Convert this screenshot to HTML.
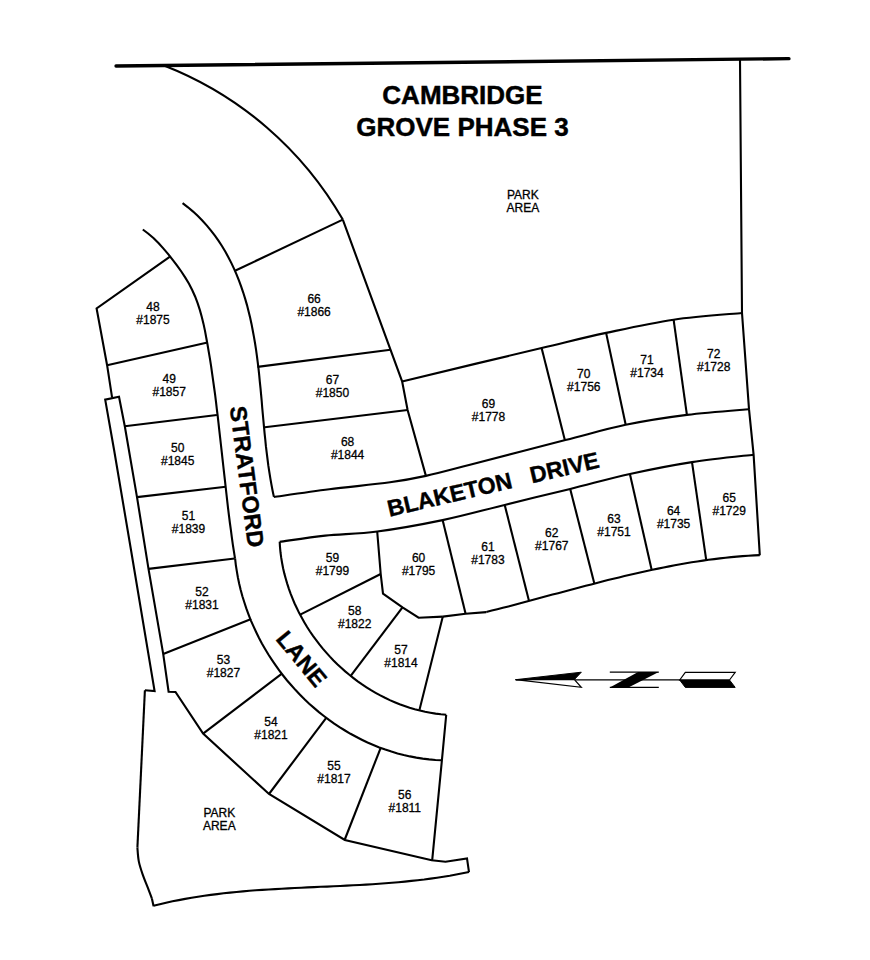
<!DOCTYPE html><html><head><meta charset="utf-8"><style>html,body{margin:0;padding:0;background:#fff;}svg{display:block;}text{font-family:"Liberation Sans",sans-serif;fill:#000;}</style></head><body>
<svg width="870" height="960" viewBox="0 0 870 960">
<rect width="870" height="960" fill="#fff"/>
<g fill="none" stroke="#000" stroke-width="2.1" stroke-linejoin="miter" stroke-linecap="butt">
<path d="M116.0,66.0 L789.0,58.7" stroke-width="3.3" stroke-linecap="round"/>
<path d="M164.6,65.7 A354.9,354.9 0 0 1 342.8,219.6"/>
<path d="M182.6,203.1 L188.0,207.3 L193.1,211.6 L197.9,216.1 L202.5,220.8 L206.9,225.6 L211.0,230.6 L214.9,235.7 L218.6,240.9 L222.1,246.3 L225.4,251.8 L228.5,257.4 L231.4,263.1 L234.1,268.9 L236.6,274.7 L239.0,280.7 L241.2,286.7 L243.3,292.8 L245.2,298.9 L247.0,305.1 L248.6,311.4 L250.1,317.6 L251.5,323.9 L252.7,330.3 L253.9,336.6 L255.0,343.0 L256.0,349.4 L256.9,355.8 L257.7,362.2 L258.5,368.7 L259.2,375.1 L259.8,381.6 L260.5,388.1 L261.1,394.6 L261.7,401.0 L262.2,407.5 L262.8,414.0 L263.4,420.5 L264.0,426.9 L264.6,433.4 L265.3,439.8 L265.9,446.2 L266.7,452.7 L267.5,459.0 L268.3,465.4 L269.3,471.8 L270.3,478.1 L271.4,484.4 L272.6,490.7 L273.9,496.9"/>
<path d="M279.7,541.8 L280.0,547.2 L280.5,552.5 L281.2,557.7 L282.1,563.0 L283.1,568.2 L284.3,573.4 L285.7,578.5 L287.2,583.6 L288.8,588.6 L290.6,593.6 L292.6,598.6 L294.6,603.5 L296.9,608.3 L299.2,613.1 L301.8,617.8 L304.4,622.4 L307.1,627.0 L310.0,631.5 L313.0,635.9 L316.2,640.2 L319.4,644.4 L322.8,648.6 L326.3,652.6 L329.9,656.6 L333.5,660.4 L337.3,664.2 L341.2,667.8 L345.2,671.4 L349.3,674.8 L353.5,678.1 L357.7,681.3 L362.1,684.4 L366.5,687.3 L371.0,690.2 L375.6,692.8 L380.3,695.4 L385.0,697.8 L389.8,700.1 L394.7,702.2 L399.6,704.2 L404.6,706.0 L409.6,707.7 L414.7,709.2 L419.9,710.5 L425.1,711.7 L430.3,712.7 L435.6,713.6 L440.9,714.3 L446.3,714.7"/>
<path d="M142.8,229.5 L148.4,233.7 L153.7,238.3 L158.7,243.3 L163.5,248.6 L168.2,254.1 L172.7,259.8 L177.1,265.6 L181.3,271.5 L185.3,277.6 L189.0,283.8 L192.3,290.2 L195.2,296.7 L197.7,303.4 L199.9,310.1 L201.8,317.0 L203.5,323.9 L205.0,330.9 L206.3,338.0 L207.6,345.0 L208.8,352.1 L210.0,359.1 L211.1,366.2 L212.1,373.3 L213.1,380.4 L214.1,387.5 L215.1,394.6 L216.0,401.8 L216.8,408.9 L217.7,416.0 L218.5,423.1 L219.3,430.3 L220.1,437.4 L220.9,444.5 L221.7,451.7 L222.5,458.8 L223.3,466.0 L224.1,473.1 L224.9,480.2 L225.7,487.4 L226.5,494.5 L227.3,501.6 L228.1,508.7 L229.0,515.9 L229.9,523.0 L230.9,530.1 L231.8,537.2 L232.8,544.3 L233.9,551.4 L235.0,558.4"/>
<path d="M235.1,558.4 L235.8,564.8 L236.8,571.2 L237.9,577.5 L239.2,583.8 L240.7,590.0 L242.4,596.2 L244.3,602.3 L246.3,608.4 L248.5,614.4 L250.8,620.3 L253.4,626.2 L256.1,632.0 L258.9,637.8 L261.9,643.4 L265.1,649.0 L268.4,654.5 L271.9,659.9 L275.5,665.2 L279.2,670.4 L283.1,675.5 L287.1,680.5 L291.3,685.3 L295.6,690.1 L300.0,694.7 L304.5,699.3 L309.2,703.7 L314.0,707.9 L318.9,712.1 L323.9,716.0 L329.0,719.9 L334.2,723.6 L339.5,727.1 L345.0,730.5 L350.5,733.8 L356.1,736.8 L361.8,739.7 L367.5,742.5 L373.4,745.0 L379.3,747.4 L385.3,749.6 L391.4,751.6 L397.5,753.4 L403.7,755.0 L410.0,756.4 L416.3,757.6 L422.7,758.6 L429.1,759.4 L435.5,760.0 L442.0,760.3"/>
<path d="M402.1,381.4 C425.4,375.8 507.6,356.1 541.6,348.0 C575.6,339.9 584.1,337.6 606.1,332.9 C628.1,328.2 651.0,323.0 673.6,319.7 C696.2,316.4 730.6,314.1 742.0,313.0"/>
<path d="M273.8,497.0 C283.1,495.7 309.9,491.8 329.3,489.3 C348.7,486.9 373.9,484.5 390.0,482.3 C406.1,480.1 412.6,478.8 425.9,475.9 C439.2,473.0 446.8,470.8 470.0,464.8 C493.2,458.8 539.4,446.8 565.4,440.1 C591.4,433.4 605.5,429.0 625.7,424.8 C646.0,420.6 666.4,417.5 686.9,414.9 C707.4,412.3 738.6,410.1 749.0,409.2"/>
<path d="M279.7,541.8 C287.3,540.8 308.9,537.3 325.2,535.6 C341.4,533.9 357.6,534.1 377.2,531.5 C396.8,528.9 421.4,524.5 442.6,520.1 C463.9,515.7 483.4,510.1 504.7,504.9 C526.0,499.7 549.3,494.0 570.2,488.9 C591.1,483.8 609.6,478.5 629.9,474.0 C650.2,469.5 671.4,465.3 692.0,462.1 C712.6,458.9 743.3,455.9 753.6,454.7"/>
<path d="M486.3,611.9 L491.8,610.6 L497.3,609.2 L502.9,607.8 L508.4,606.4 L513.9,604.9 L519.4,603.5 L524.9,602.0 L530.5,600.6 L536.0,599.1 L541.5,597.6 L547.0,596.1 L552.5,594.6 L558.1,593.2 L563.6,591.7 L569.1,590.2 L574.7,588.7 L580.2,587.3 L585.7,585.8 L591.3,584.4 L596.8,583.0 L602.3,581.5 L607.9,580.1 L613.4,578.8 L619.0,577.4 L624.5,576.1 L630.1,574.7 L635.7,573.5 L641.2,572.2 L646.8,571.0 L652.4,569.8 L658.0,568.6 L663.6,567.5 L669.2,566.4 L674.8,565.3 L680.4,564.3 L686.0,563.3 L691.7,562.3 L697.3,561.5 L702.9,560.6 L708.6,559.8 L714.2,559.1 L719.9,558.4 L725.6,557.7 L731.2,557.1 L736.9,556.6 L742.6,556.1 L748.3,555.7 L754.1,555.4 L759.8,555.1"/>
<path d="M137.4,847.6 C137.6,849.9 137.9,856.8 138.8,861.4 C139.7,866.0 141.4,870.8 142.9,875.2 C144.4,879.6 146.3,883.7 147.8,887.6 C149.3,891.5 151.2,896.8 151.9,898.6"/>
<path d="M153.5,905.7 L159.8,904.2 L166.1,902.7 L172.5,901.3 L178.8,900.1 L185.2,898.9 L191.6,897.8 L198.0,896.7 L204.3,895.8 L210.8,894.9 L217.2,894.1 L223.6,893.3 L230.0,892.6 L236.5,892.0 L242.9,891.4 L249.4,890.8 L255.8,890.3 L262.3,889.9 L268.8,889.5 L275.2,889.1 L281.7,888.7 L288.2,888.4 L294.7,888.0 L301.2,887.7 L307.6,887.4 L314.1,887.1 L320.6,886.8 L327.1,886.6 L333.6,886.3 L340.1,886.0 L346.6,885.6 L353.1,885.3 L359.6,885.0 L366.0,884.6 L372.5,884.2 L379.0,883.8 L385.5,883.3 L391.9,882.8 L398.4,882.2 L404.9,881.6 L411.3,880.9 L417.7,880.2 L424.2,879.5 L430.6,878.6 L437.0,877.7 L443.4,876.7 L449.8,875.7 L456.2,874.5 L462.6,873.3 L469.0,872.0"/>
<path d="M740.0,60.0 L742.0,313.0 L749.0,409.2 L753.6,454.7 L759.8,555.2"/>
<path d="M342.8,219.6 L235.0,270.8"/>
<path d="M342.8,219.6 L402.1,381.4 L407.6,410.0 L425.9,475.9"/>
<path d="M257.5,366.9 L390.5,349.7"/>
<path d="M264.8,427.3 L407.6,410.0"/>
<path d="M541.6,348.0 L564.9,440.3"/>
<path d="M606.1,332.9 L625.7,424.8"/>
<path d="M673.6,319.7 L686.9,414.9"/>
<path d="M377.2,531.5 L380.7,574.0 L383.0,593.6 L402.5,607.4 L418.6,617.7 L442.8,616.6"/>
<path d="M442.8,616.6 L465.6,613.7 L486.3,612.1"/>
<path d="M380.7,574.0 L300.2,614.6"/>
<path d="M442.6,520.1 L465.6,613.7"/>
<path d="M504.7,504.9 L528.9,600.6"/>
<path d="M570.2,488.9 L594.4,583.8"/>
<path d="M629.9,474.0 L651.7,570.1"/>
<path d="M692.0,462.1 L706.2,559.8"/>
<path d="M402.5,607.4 L350.5,676.2"/>
<path d="M442.8,616.6 L419.5,709.8"/>
<path d="M446.2,715.0 L441.9,760.3 L432.2,860.2"/>
<path d="M380.7,747.8 L344.8,839.5"/>
<path d="M326.4,717.6 L269.0,794.0"/>
<path d="M203.1,733.6 L281.6,673.9"/>
<path d="M163.2,653.9 L251.2,619.0"/>
<path d="M148.5,568.9 L234.7,558.5"/>
<path d="M137.0,497.1 L225.8,486.7"/>
<path d="M124.8,426.3 L216.9,415.0"/>
<path d="M107.1,365.2 L207.5,342.5"/>
<path d="M170.0,256.7 L96.6,308.4 L107.1,365.2 L112.1,397.6"/>
<path d="M144.9,690.3 L154.6,691.1 L131.0,550.0 L114.1,450.0 L105.2,399.6 L119.0,396.7 L124.8,426.3 L137.0,497.1 L148.5,568.9 L163.2,653.9 L168.6,691.7 L175.5,692.0 L203.1,733.6 L269.0,794.0 L344.8,840.0 L431.7,860.3 L445.5,861.7 L467.0,858.4 L469.0,872.2"/>
<path d="M144.9,690.3 L137.4,847.6"/>
<path d="M151.9,898.6 L153.6,906.2"/>
</g>
<g font-size="12" text-anchor="middle" stroke="#000" stroke-width="0.3">
<text x="153" y="310.8">48</text><text x="153" y="323.8">#1875</text>
<text x="169.2" y="382.8">49</text><text x="169.2" y="395.8">#1857</text>
<text x="177.7" y="452.3">50</text><text x="177.7" y="465.3">#1845</text>
<text x="188.5" y="520.1">51</text><text x="188.5" y="533.1">#1839</text>
<text x="202" y="596.4">52</text><text x="202" y="609.4">#1831</text>
<text x="223.4" y="664.3">53</text><text x="223.4" y="677.3">#1827</text>
<text x="271" y="726.3">54</text><text x="271" y="739.3">#1821</text>
<text x="334" y="769.6">55</text><text x="334" y="782.6">#1817</text>
<text x="404.8" y="798.6">56</text><text x="404.8" y="811.6">#1811</text>
<text x="401" y="654.3">57</text><text x="401" y="667.3">#1814</text>
<text x="354.7" y="614.5">58</text><text x="354.7" y="627.5">#1822</text>
<text x="332.4" y="562.1">59</text><text x="332.4" y="575.1">#1799</text>
<text x="418.6" y="562.1">60</text><text x="418.6" y="575.1">#1795</text>
<text x="487.9" y="551.1">61</text><text x="487.9" y="564.1">#1783</text>
<text x="551.8" y="537.3">62</text><text x="551.8" y="550.3">#1767</text>
<text x="614" y="522.8">63</text><text x="614" y="535.8">#1751</text>
<text x="673.6" y="515.3">64</text><text x="673.6" y="528.3">#1735</text>
<text x="729.2" y="502.1">65</text><text x="729.2" y="515.1">#1729</text>
<text x="314.1" y="303.3">66</text><text x="314.1" y="316.3">#1866</text>
<text x="332.4" y="383.8">67</text><text x="332.4" y="396.8">#1850</text>
<text x="347.6" y="446.2">68</text><text x="347.6" y="459.2">#1844</text>
<text x="488.5" y="407.6">69</text><text x="488.5" y="420.6">#1778</text>
<text x="583.8" y="377.8">70</text><text x="583.8" y="390.8">#1756</text>
<text x="647" y="364.4">71</text><text x="647" y="377.4">#1734</text>
<text x="713.7" y="357.5">72</text><text x="713.7" y="370.5">#1728</text>
<text x="522.9" y="199.2">PARK</text><text x="522.9" y="212.2">AREA</text>
<text x="219.3" y="816.8">PARK</text><text x="219.3" y="829.8">AREA</text>
</g>
<g font-weight="bold" text-anchor="middle" stroke="#000" stroke-width="0.45">
<text x="462.5" y="104.4" font-size="26">CAMBRIDGE</text>
<text x="462.5" y="135.7" font-size="26">GROVE PHASE 3</text>
</g>
<text font-weight="bold" font-size="23.3" stroke="#000" stroke-width="0.4" text-anchor="middle" transform="translate(238.9,477.7) rotate(82.5)">STRATFORD</text>
<text font-weight="bold" font-size="23" stroke="#000" stroke-width="0.4" text-anchor="middle" transform="translate(495,492) rotate(-13.2)" xml:space="preserve">BLAKETON   DRIVE</text>
<text font-weight="bold" font-size="23.5" stroke="#000" stroke-width="0.4" text-anchor="middle" transform="translate(295.4,663.9) rotate(50.5)">LANE</text>
<g>
<line x1="516" y1="679.8" x2="680" y2="679.8" stroke="#000" stroke-width="1.2"/>
<path d="M515.5,679.7 L581.3,672.2 L574.4,679.5 Z" fill="#000" stroke="#000" stroke-width="1"/>
<path d="M515.5,679.7 L581.3,687.3 L574.4,679.5 Z" fill="#fff" stroke="#000" stroke-width="1.2"/>
<line x1="609.8" y1="672.2" x2="658.8" y2="672.2" stroke="#000" stroke-width="1.2"/>
<line x1="609.8" y1="687.3" x2="658.8" y2="687.3" stroke="#000" stroke-width="1.2"/>
<path d="M638.1,672 L658.8,672 L628.4,687.5 L609.8,687.5 Z" fill="#000"/>
<path d="M679.7,680 L685.3,672.4 L735.2,672.4 L729.5,680 Z" fill="#fff" stroke="#000" stroke-width="1.2"/>
<path d="M679.7,680 L729.5,680 L735.2,687.4 L685.3,687.4 Z" fill="#000" stroke="#000" stroke-width="1"/>
</g>
</svg></body></html>
